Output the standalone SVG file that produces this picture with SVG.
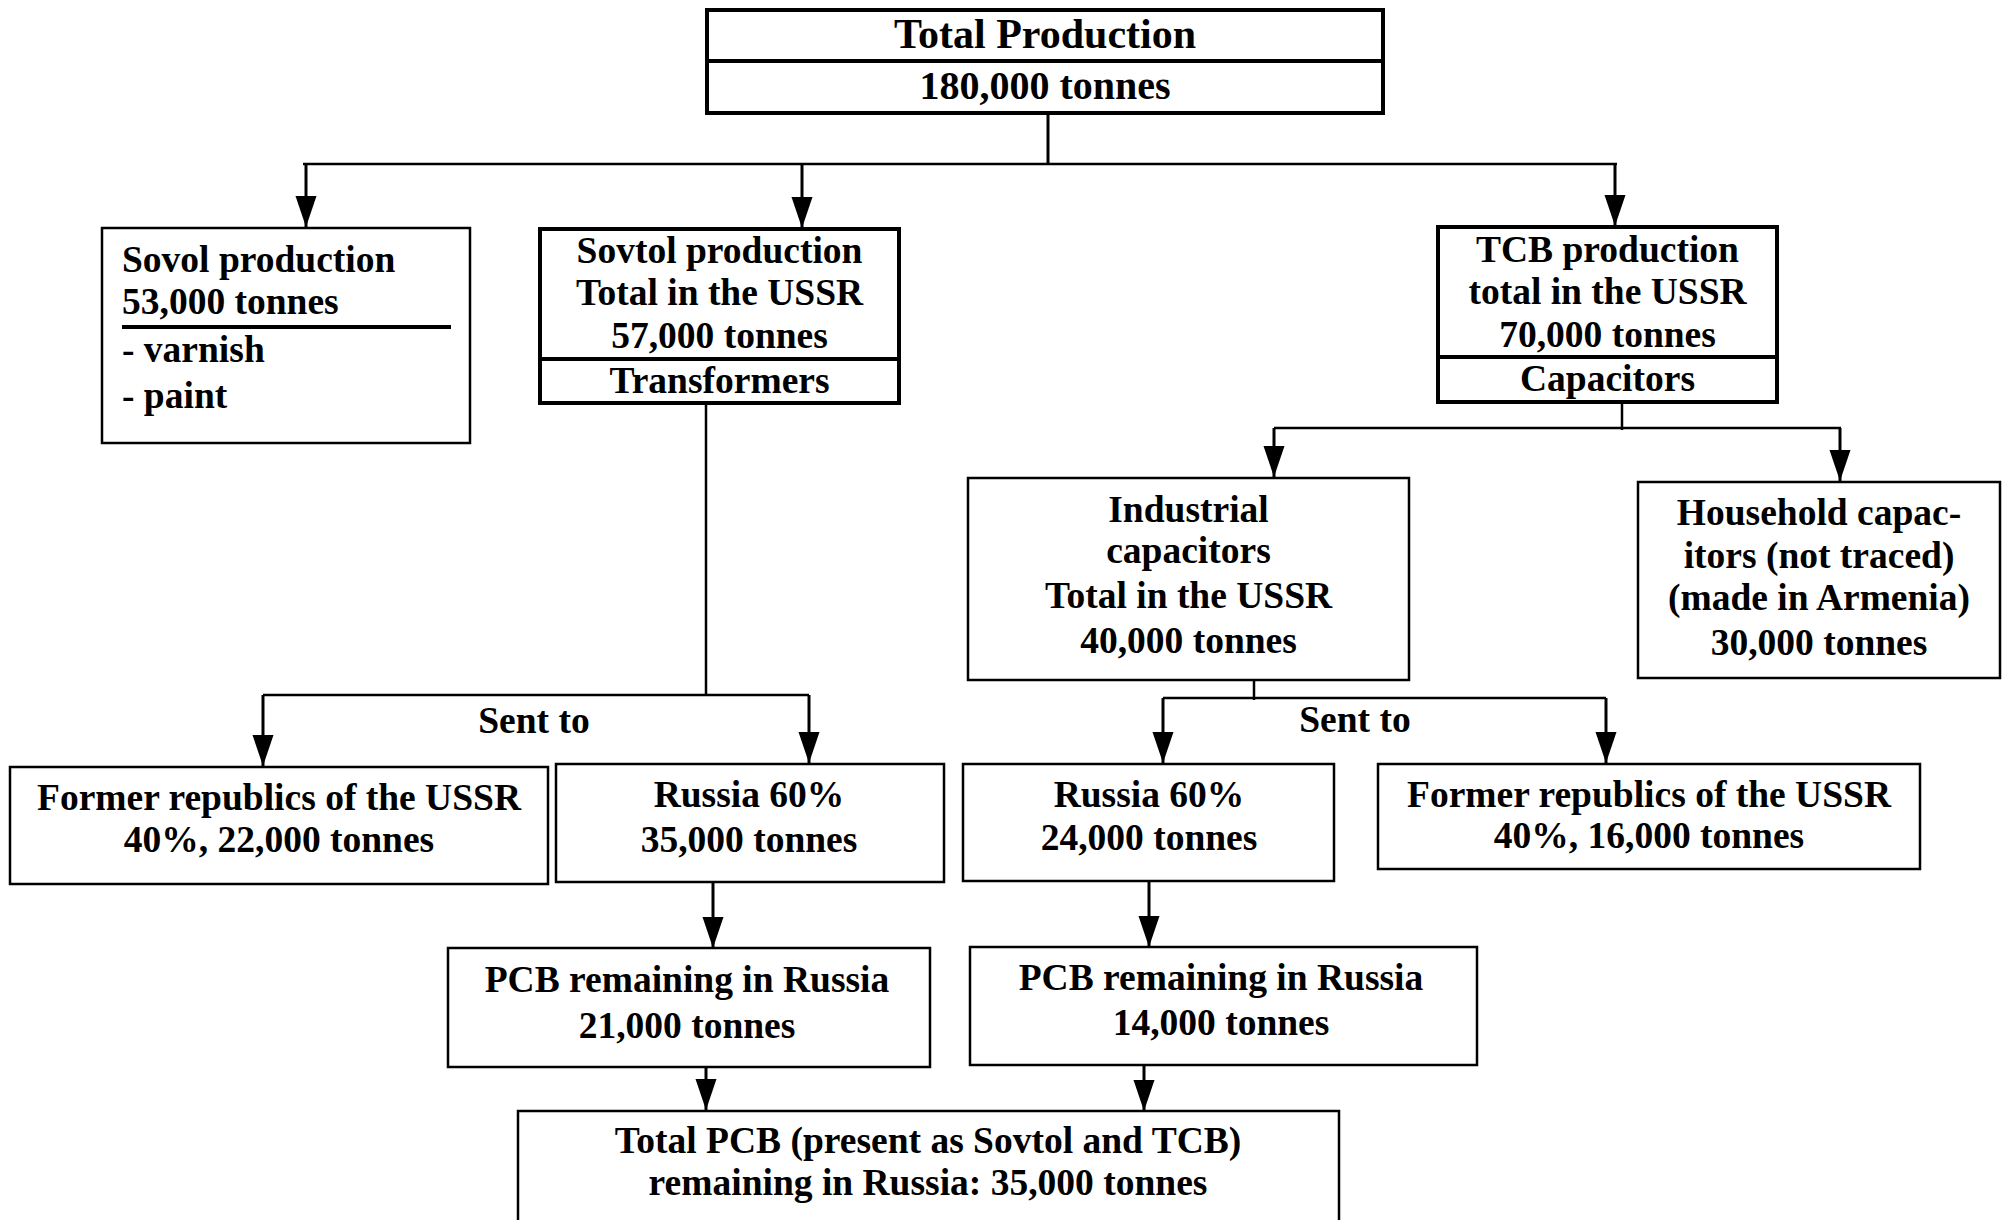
<svg xmlns="http://www.w3.org/2000/svg" width="2010" height="1220" viewBox="0 0 2010 1220">
<style>
text{font-family:"Liberation Serif","Times New Roman",serif;font-weight:bold;font-size:37.5px;fill:#000}
.c{text-anchor:middle}
.box{fill:#fff;stroke:#000;stroke-width:2.5}
.thick{fill:#fff;stroke:#000;stroke-width:4}
.div{stroke:#000;stroke-width:4}
.ln{stroke:#000;stroke-width:2.5;fill:none}
.ar{stroke:#000;stroke-width:3;fill:none;marker-end:url(#ah)}
</style>
<defs>
<marker id="ah" markerUnits="userSpaceOnUse" markerWidth="32" markerHeight="22" refX="31" refY="10.5" orient="auto">
<path d="M0,0 L31,10.5 L0,21 z" fill="#000"/>
</marker>
</defs>
<rect width="2010" height="1220" fill="#fff"/>

<g id="connectors">
<line class="ln" x1="1048" y1="113" x2="1048" y2="164" style="stroke-width:3"/>
<line class="ln" x1="303" y1="164" x2="1617" y2="164"/>
<line class="ar" x1="306" y1="164" x2="306" y2="227"/>
<line class="ar" x1="802" y1="164" x2="802" y2="228"/>
<line class="ar" x1="1615" y1="164" x2="1615" y2="226"/>

<line class="ln" x1="706" y1="403" x2="706" y2="695"/>
<line class="ln" x1="263" y1="695" x2="809" y2="695"/>
<line class="ar" x1="263" y1="695" x2="263" y2="766"/>
<line class="ar" x1="809" y1="695" x2="809" y2="763"/>
<text class="c" x="534" y="733">Sent to</text>

<line class="ln" x1="1622" y1="402" x2="1622" y2="430"/>
<line class="ln" x1="1274" y1="428" x2="1841" y2="428"/>
<line class="ar" x1="1274" y1="428" x2="1274" y2="477"/>
<line class="ar" x1="1840" y1="428" x2="1840" y2="481"/>

<line class="ln" x1="1254" y1="680" x2="1254" y2="700"/>
<line class="ln" x1="1163" y1="698" x2="1606" y2="698"/>
<line class="ar" x1="1163" y1="698" x2="1163" y2="763"/>
<line class="ar" x1="1606" y1="698" x2="1606" y2="763"/>
<text class="c" x="1355" y="732">Sent to</text>

<line class="ar" x1="713" y1="882" x2="713" y2="948"/>
<line class="ar" x1="1149" y1="881" x2="1149" y2="947"/>
<line class="ar" x1="706" y1="1067" x2="706" y2="1110"/>
<line class="ar" x1="1144" y1="1065" x2="1144" y2="1111"/>
</g>

<g id="total-production">
<rect class="thick" x="707" y="10" width="676" height="103"/>
<line class="div" x1="707" y1="61" x2="1383" y2="61"/>
<text class="c" x="1045" y="48" style="font-size:42px">Total Production</text>
<text class="c" x="1045" y="99" style="font-size:40px">180,000 tonnes</text>
</g>

<g id="sovol">
<rect class="box" x="102" y="228" width="368" height="215"/>
<line class="div" x1="122" y1="327" x2="451" y2="327"/>
<text x="122" y="272">Sovol production</text>
<text x="122" y="314">53,000 tonnes</text>
<text x="122" y="362">- varnish</text>
<text x="122" y="408">- paint</text>
</g>

<g id="sovtol">
<rect class="thick" x="540" y="229" width="359" height="174"/>
<line class="div" x1="540" y1="359" x2="899" y2="359"/>
<text class="c" x="719.5" y="263">Sovtol production</text>
<text class="c" x="719.5" y="305">Total in the USSR</text>
<text class="c" x="719.5" y="348">57,000 tonnes</text>
<text class="c" x="719.5" y="393">Transformers</text>
</g>

<g id="tcb">
<rect class="thick" x="1438" y="227" width="339" height="175"/>
<line class="div" x1="1438" y1="357" x2="1777" y2="357"/>
<text class="c" x="1607.5" y="262">TCB production</text>
<text class="c" x="1607.5" y="304">total in the USSR</text>
<text class="c" x="1607.5" y="347">70,000 tonnes</text>
<text class="c" x="1607.5" y="391">Capacitors</text>
</g>

<g id="industrial">
<rect class="box" x="968" y="478" width="441" height="202"/>
<text class="c" x="1188.5" y="522">Industrial</text>
<text class="c" x="1188.5" y="563">capacitors</text>
<text class="c" x="1188.5" y="608">Total in the USSR</text>
<text class="c" x="1188.5" y="653">40,000 tonnes</text>
</g>

<g id="household">
<rect class="box" x="1638" y="482" width="362" height="196"/>
<text class="c" x="1819" y="525">Household capac-</text>
<text class="c" x="1819" y="568">itors (not traced)</text>
<text class="c" x="1819" y="610">(made in Armenia)</text>
<text class="c" x="1819" y="655">30,000 tonnes</text>
</g>

<g id="former-left">
<rect class="box" x="10" y="767" width="538" height="117"/>
<text class="c" x="279" y="810">Former republics of the USSR</text>
<text class="c" x="279" y="852">40%, 22,000 tonnes</text>
</g>

<g id="russia-left">
<rect class="box" x="556" y="764" width="388" height="118"/>
<text class="c" x="749" y="807">Russia 60%</text>
<text class="c" x="749" y="852">35,000 tonnes</text>
</g>

<g id="russia-right">
<rect class="box" x="963" y="764" width="371" height="117"/>
<text class="c" x="1149" y="807">Russia 60%</text>
<text class="c" x="1149" y="850">24,000 tonnes</text>
</g>

<g id="former-right">
<rect class="box" x="1378" y="764" width="542" height="105"/>
<text class="c" x="1649" y="807">Former republics of the USSR</text>
<text class="c" x="1649" y="848">40%, 16,000 tonnes</text>
</g>

<g id="pcb-left">
<rect class="box" x="448" y="948" width="482" height="119"/>
<text class="c" x="687" y="992">PCB remaining in Russia</text>
<text class="c" x="687" y="1038">21,000 tonnes</text>
</g>

<g id="pcb-right">
<rect class="box" x="970" y="947" width="507" height="118"/>
<text class="c" x="1221" y="990">PCB remaining in Russia</text>
<text class="c" x="1221" y="1035">14,000 tonnes</text>
</g>

<g id="total-pcb">
<rect class="box" x="518" y="1111" width="821" height="130"/>
<text class="c" x="928" y="1153">Total PCB (present as Sovtol and TCB)</text>
<text class="c" x="928" y="1195">remaining in Russia: 35,000 tonnes</text>
</g>
</svg>
